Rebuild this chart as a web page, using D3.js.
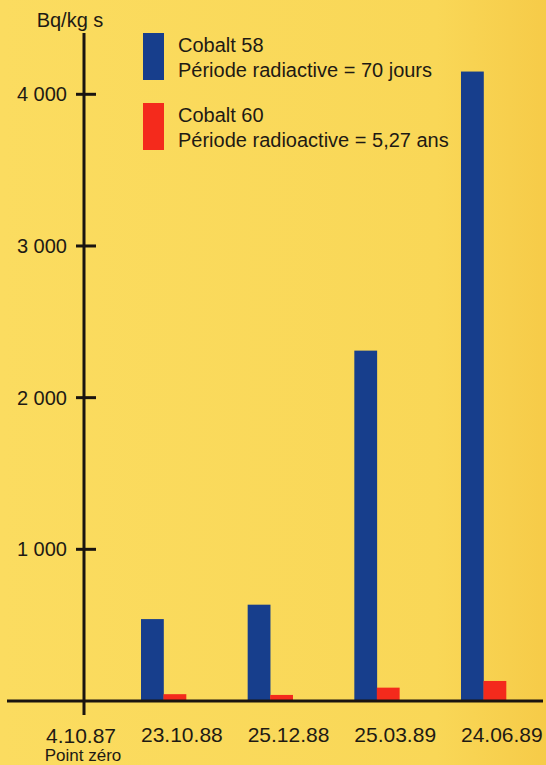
<!DOCTYPE html>
<html><head><meta charset="utf-8">
<script src="https://cdn.jsdelivr.net/npm/d3@7"></script>
<style>
html,body{margin:0;padding:0;background:#fad95a;}
svg{display:block;}
text{font-family:"Liberation Sans",Arial,Helvetica,sans-serif;fill:#1e1a14;}
</style></head>
<body>
<script>
// ---- data ----
const dates = ["23.10.88", "25.12.88", "25.03.89", "24.06.89"];
const cobalt58 = [540, 635, 2310, 4150];
const cobalt60 = [45, 40, 88, 132];
const seriesNames = ["Cobalt 58", "Cobalt 60"];
const seriesNotes = ["Période radiactive = 70 jours", "Période radioactive = 5,27 ans"];
const yTicks = [1000, 2000, 3000, 4000];
const yTickLabels = ["1 000", "2 000", "3 000", "4 000"];
const originLabel = "4.10.87";
const originNote = "Point zéro";
const unitLabel = "Bq/kg s";

const W = 546, H = 765;
const colors = ["#173e8c", "#f42a1c"];

const svg = d3.select("body").append("svg").attr("width", W).attr("height", H);
const defs = svg.append("defs");
const grad = defs.append("linearGradient").attr("id", "bg").attr("x1", 0).attr("x2", 1).attr("y1", 0).attr("y2", 0);
grad.append("stop").attr("offset", "0%").attr("stop-color", "#fbdc60");
grad.append("stop").attr("offset", "80%").attr("stop-color", "#f9d757");
grad.append("stop").attr("offset", "100%").attr("stop-color", "#f6cb48");
svg.append("rect").attr("width", W).attr("height", H).attr("fill", "url(#bg)");

const axisX = 84;
const y = d3.scaleLinear().domain([0, 4000]).range([701, 94.3]);
const x = d3.scaleBand().domain(dates).range([141, 506]).paddingInner(0.578).paddingOuter(0);
const xs = d3.scaleBand().domain(seriesNames).range([0, x.bandwidth()]);

const rows = dates.map((d, i) => ({date: d, values: [cobalt58[i], cobalt60[i]]}));

// bars
const g = svg.append("g");
rows.forEach(r => {
  r.values.forEach((v, k) => {
    g.append("rect")
      .attr("x", x(r.date) + xs(seriesNames[k]))
      .attr("width", xs.bandwidth() + 0.3)
      .attr("y", y(v))
      .attr("height", y(0) - y(v))
      .attr("fill", colors[k]);
  });
});

// x axis line
svg.append("line").attr("x1", 7).attr("x2", 543).attr("y1", y(0)).attr("y2", y(0))
  .attr("stroke", "#1a1410").attr("stroke-width", 3);
// y axis line
svg.append("line").attr("x1", axisX).attr("x2", axisX).attr("y1", 33).attr("y2", 715)
  .attr("stroke", "#1a1410").attr("stroke-width", 3);

// y ticks
const yt = svg.append("g");
yTicks.forEach((t, i) => {
  yt.append("line").attr("x1", axisX - 8).attr("x2", axisX + 12)
    .attr("y1", y(t)).attr("y2", y(t)).attr("stroke", "#1a1410").attr("stroke-width", 3);
  yt.append("text").attr("x", 67).attr("y", y(t) + 7).attr("text-anchor", "end")
    .attr("font-size", 20).text(yTickLabels[i]);
});

// unit label
svg.append("text").attr("x", 70).attr("y", 27).attr("text-anchor", "middle")
  .attr("font-size", 20).text(unitLabel);

// x labels
const xl = svg.append("g");
dates.forEach(d => {
  xl.append("text").attr("x", x(d)).attr("y", 742).attr("font-size", 21).text(d);
});
xl.append("text").attr("x", 81).attr("y", 743).attr("text-anchor", "middle").attr("font-size", 21).text(originLabel);
xl.append("text").attr("x", 83).attr("y", 761).attr("text-anchor", "middle").attr("font-size", 17).text(originNote);

// legend
const lg = svg.append("g");
const legendTop = [33, 103];
seriesNames.forEach((n, k) => {
  lg.append("rect").attr("x", 143).attr("y", legendTop[k]).attr("width", 21).attr("height", 47).attr("fill", colors[k]);
  lg.append("text").attr("x", 178).attr("y", legendTop[k] + 19).attr("font-size", 20).text(n);
  lg.append("text").attr("x", 178).attr("y", legendTop[k] + 44).attr("font-size", 20).text(seriesNotes[k]);
});
</script>
</body></html>
